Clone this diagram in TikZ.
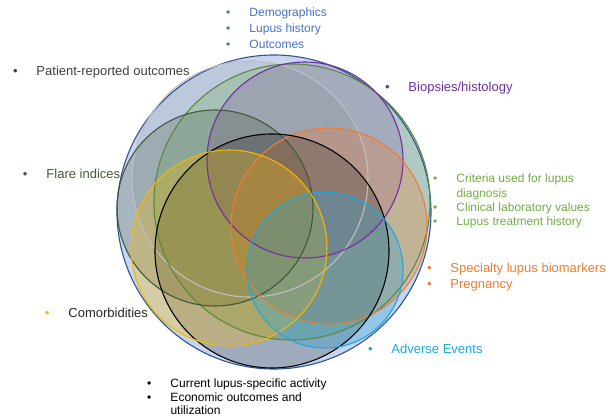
\documentclass[tikz,border=0pt]{standalone}
\usepackage{fontspec}
\setmainfont{Liberation Sans}
\usepackage{xcolor}
\usetikzlibrary{positioning}

\definecolor{demoblue}{HTML}{4472C4}
\definecolor{ringblue}{HTML}{2F5597}
\definecolor{fillblue}{HTML}{B4C7E7}
\definecolor{progray}{HTML}{404040}
\definecolor{biopurple}{HTML}{7030A0}
\definecolor{flaregreen}{HTML}{43583A}
\definecolor{critgreen}{HTML}{70AD47}
\definecolor{specorange}{HTML}{ED7D31}
\definecolor{comyellow}{HTML}{F5B800}
\definecolor{aecyan}{HTML}{1FA6DD}
\definecolor{ringgray}{HTML}{BFBFBF}

\newcommand{\bul}{\makebox[23.5pt][l]{\textbullet}}
\newcommand{\nobul}{\hspace*{23.5pt}}

\tikzset{
  ring/.style={line width=1.1pt},
  lbl/.style={anchor=north west, inner sep=0pt, align=left},
  big/.style={font=\fontsize{13}{16}\selectfont},
  small/.style={font=\fontsize{12}{14.2}\selectfont},
}

\begin{document}
\begin{tikzpicture}[x=1pt, y=-1pt]
  \useasboundingbox (0,0) rectangle (606,418);

  \coordinate (blue-c) at (274,212);
  \coordinate (gray-c) at (250,179);
  \coordinate (green-c) at (292,202);
  \coordinate (purple-c) at (305,160);
  \coordinate (flare-c) at (215,208);
  \coordinate (orange-c) at (329,226);
  \coordinate (black-c) at (272,251);
  \coordinate (yellow-c) at (229,248);
  \coordinate (cyan-c) at (325,270);

  \fill[fillblue, fill opacity=0.75] (blue-c) circle[radius=157pt];
  \fill[gray, fill opacity=0.15] (gray-c) circle[radius=118pt];
  \fill[critgreen, fill opacity=0.25] (green-c) circle[radius=138pt];
  \fill[biopurple, fill opacity=0.2] (purple-c) circle[radius=98pt];
  \fill[flaregreen, fill opacity=0.25] (flare-c) circle[radius=98pt];
  \fill[specorange, fill opacity=0.3] (orange-c) circle[radius=98pt];
  \fill[black, fill opacity=0.2] (black-c) circle[radius=117pt];
  \fill[comyellow, fill opacity=0.3] (yellow-c) circle[radius=98pt];
  \fill[aecyan, fill opacity=0.3] (cyan-c) circle[radius=78pt];

  \draw[ring, ringblue] (blue-c) circle[radius=157pt];
  \draw[ring, ringgray] (gray-c) circle[radius=118pt];
  \draw[ring, critgreen!80!black] (green-c) circle[radius=138pt];
  \draw[ring, biopurple] (purple-c) circle[radius=98pt];
  \draw[ring, flaregreen] (flare-c) circle[radius=98pt];
  \draw[ring, specorange] (orange-c) circle[radius=98pt];
  \draw[ring, black] (black-c) circle[radius=117pt];
  \draw[ring, comyellow] (yellow-c) circle[radius=98pt];
  \draw[ring, aecyan] (cyan-c) circle[radius=78pt];

  \node[lbl, font=\fontsize{12}{16}\selectfont, text=demoblue] (demo) at (225.8,8)
    {\bul Demographics\\ \bul Lupus history\\ \bul Outcomes};
  \node[lbl, big, text=progray] (pro) at (12.8,65.5) {\bul Patient-reported outcomes};
  \node[lbl, big, text=biopurple] (biop) at (384.8,81.5) {\bul Biopsies/histology};
  \node[lbl, big, text=flaregreen] (flare) at (22.8,168.5) {\bul Flare indices};
  \node[lbl, small, text=critgreen] (crit) at (432.8,174)
    {\bul Criteria used for lupus\\ \nobul diagnosis\\ \bul Clinical laboratory values\\ \bul Lupus treatment history};
  \node[lbl, big, text=specorange] (spec) at (426.8,262.5)
    {\bul Specialty lupus biomarkers\\ \bul Pregnancy};
  \node[lbl, big, text=black!85] (comorb) at (44.8,307.5)
    {\makebox[23.5pt][l]{\color{comyellow}\textbullet}Comorbidities};
  \node[lbl, big, text=aecyan] (ae) at (367.8,343.5) {\bul Adverse Events};
  \node[lbl, font=\fontsize{12}{13.8}\selectfont, text=black] (activity) at (146.8,378.5)
    {\bul Current lupus-specific activity\\ \bul Economic outcomes and\\ \nobul utilization};
\end{tikzpicture}
\end{document}
